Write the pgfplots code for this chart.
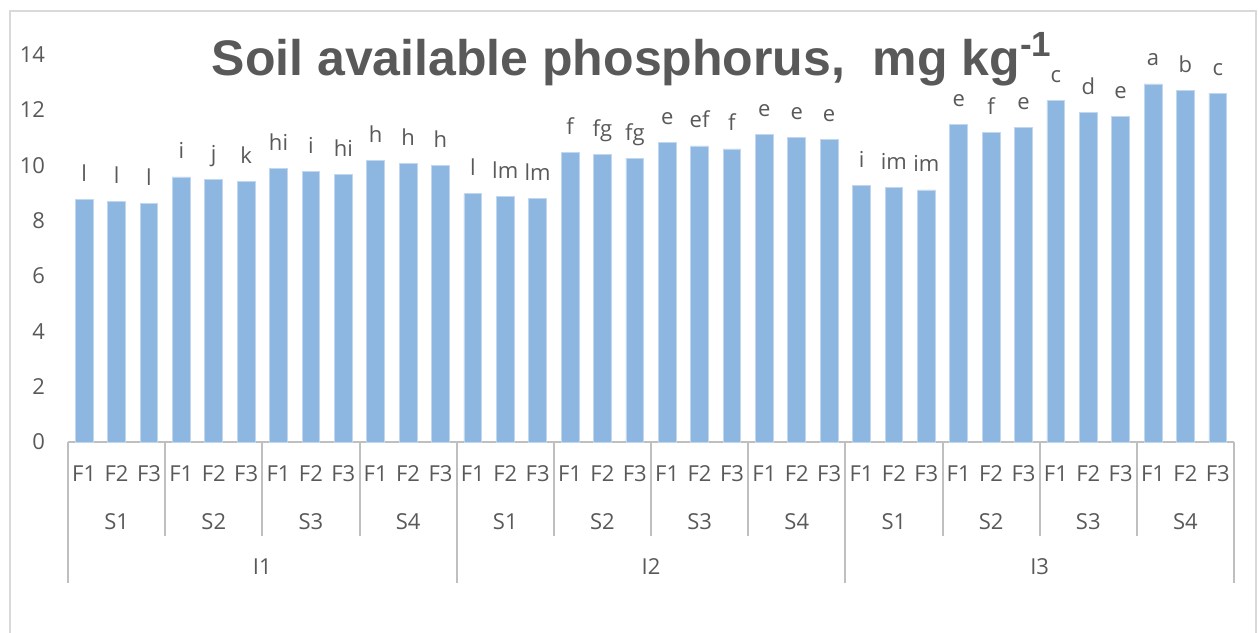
\documentclass[border=0pt]{standalone}
\usepackage{pgfplots}
\usepackage{pgfplotstable}
\pgfplotsset{compat=1.18}
\usepackage{fontspec}
\setmainfont{Open Sans}
\newfontfamily\titlefont{Liberation Sans}
\definecolor{barblue}{RGB}{141,183,224}
\definecolor{txtgray}{RGB}{89,89,89}
\definecolor{sepgray}{RGB}{191,191,191}
\definecolor{framegray}{RGB}{217,217,217}

\pgfplotstableread{
x y lab
0 8.76 l
1 8.69 l
2 8.61 l
3 9.58 i
4 9.49 j
5 9.41 k
6 9.87 hi
7 9.77 i
8 9.66 hi
9 10.17 h
10 10.08 h
11 10.01 h
12 8.97 l
13 8.87 lm
14 8.81 lm
15 10.48 f
16 10.38 fg
17 10.26 fg
18 10.81 e
19 10.70 ef
20 10.59 f
21 11.13 e
22 11.00 e
23 10.94 e
24 9.28 i
25 9.20 im
26 9.11 im
27 11.49 e
28 11.20 f
29 11.37 e
30 12.33 c
31 11.92 d
32 11.78 e
33 12.94 a
34 12.69 b
35 12.60 c
}\datatable

\begin{document}
\begin{tikzpicture}
\path[use as bounding box] (0,0) rectangle (629pt,-316pt);
\draw[framegray, line width=0.6pt] (5pt,-5.5pt) rectangle (628pt,-330pt);
\node[anchor=base, text=txtgray, font=\titlefont\bfseries\fontsize{25}{30}\selectfont] at (316pt,-37.5pt) {Soil available phosphorus,\ \ mg kg\textsuperscript{-1}};
\begin{axis}[
  at={(34pt,-221pt)}, anchor=south west,
  scale only axis, width=583pt, height=193.7pt,
  xmin=-0.5, xmax=35.5, ymin=0, ymax=14,
  clip=false,
  axis x line*=bottom, axis y line*=left,
  y axis line style={draw=none},
  x axis line style={draw=sepgray, line width=1pt},
  major tick length=0pt,
  ytick={0,2,...,14},
  /pgf/number format/assume math mode=true,
  ticklabel style={font=\fontsize{11}{13}\selectfont, text=txtgray},
  yticklabel style={anchor=east, xshift=-8pt},
  xtick={0,...,35},
  xticklabels={F1,F2,F3,F1,F2,F3,F1,F2,F3,F1,F2,F3,F1,F2,F3,F1,F2,F3,F1,F2,F3,F1,F2,F3,F1,F2,F3,F1,F2,F3,F1,F2,F3,F1,F2,F3},
  xticklabel style={anchor=base, yshift=-19.5pt},
  bar width=0.55,
  point meta=explicit symbolic,
  nodes near coords,
  nodes near coords style={anchor=base, yshift=9pt, font=\fontsize{11}{13}\selectfont, text=txtgray},
]
\addplot[ybar, fill=barblue, draw=barblue!55!white, line width=0.4pt] table[x=x, y=y, meta=lab] \datatable;
% separators
\foreach \s in {2.5,5.5,8.5,14.5,17.5,20.5,26.5,29.5,32.5}{
  \edef\temp{\noexpand\draw[sepgray, line width=1pt] (axis cs:\s,0) -- ++(0pt,-47pt);}\temp
}
\foreach \s in {-0.5,11.5,23.5,35.5}{
  \edef\temp{\noexpand\draw[sepgray, line width=1pt] (axis cs:\s,0) -- ++(0pt,-70.5pt);}\temp
}
\foreach \p/\l in {1/S1,4/S2,7/S3,10/S4,13/S1,16/S2,19/S3,22/S4,25/S1,28/S2,31/S3,34/S4}{
  \edef\temp{\noexpand\node[anchor=base, text=txtgray, font=\noexpand\fontsize{11}{13}\noexpand\selectfont] at (axis cs:\p,0) [yshift=-43.75pt] {\l};}\temp
}
\foreach \p/\l in {5.5/I1,17.5/I2,29.5/I3}{
  \edef\temp{\noexpand\node[anchor=base, text=txtgray, font=\noexpand\fontsize{11}{13}\noexpand\selectfont] at (axis cs:\p,0) [yshift=-66pt] {\l};}\temp
}
\end{axis}
\end{tikzpicture}
\end{document}
